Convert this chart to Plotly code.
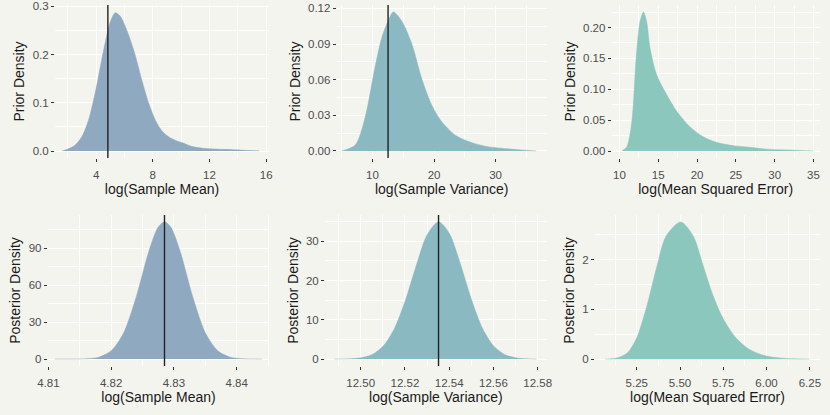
import plotly.graph_objects as go

# --------------------------------------------------------------------------- #
# Density curves (x = statistic, y = density)
# --------------------------------------------------------------------------- #
prior_mean_x = [1.6, 2.0, 2.5, 3.0, 3.5, 4.0, 4.5, 5.0, 5.35, 5.7, 6.2, 6.7, 7.2, 7.7,
                8.2, 8.7, 9.2, 9.7, 10.2, 10.7, 11.5, 12.5, 13.5, 14.5, 15.5]
prior_mean_y = [0.0, 0.004, 0.012, 0.030, 0.068, 0.13, 0.205, 0.268, 0.287, 0.280, 0.248,
                0.205, 0.150, 0.100, 0.063, 0.040, 0.028, 0.021, 0.016, 0.010, 0.006,
                0.004, 0.003, 0.0015, 0.0005]

prior_var_x = [5.0, 7.2, 8.8, 10.4, 11.5, 12.5, 13.4, 14.8, 16.4, 18.0, 19.6, 21.2,
               23.4, 25.6, 28.3, 31.0, 33.7, 36.6]
prior_var_y = [0.0, 0.005, 0.028, 0.070, 0.095, 0.109, 0.117, 0.109, 0.090, 0.061,
               0.039, 0.025, 0.0135, 0.008, 0.004, 0.0023, 0.001, 0.0]

prior_mse_x = [10.3, 10.95, 11.6, 12.15, 12.66, 13.1, 13.5, 13.95, 14.8, 16.1, 17.4,
               19.1, 20.8, 22.5, 24.7, 26.8, 29.0, 32.0, 35.0]
prior_mse_y = [0.0, 0.007, 0.048, 0.150, 0.210, 0.225, 0.210, 0.166, 0.123, 0.091,
               0.064, 0.039, 0.023, 0.014, 0.0086, 0.006, 0.003, 0.0016, 0.0]

post_mean_x = [4.811, 4.814, 4.816, 4.818, 4.820, 4.822, 4.824, 4.826, 4.8275, 4.8285,
               4.8295, 4.831, 4.833, 4.835, 4.837, 4.839, 4.841, 4.843, 4.844]
post_mean_y = [0.0, 0.03, 0.25, 1.5, 6.7, 21.4, 50.6, 87.4, 107.2, 111.5, 107.2, 87.4,
               50.6, 21.4, 6.7, 1.5, 0.25, 0.03, 0.0]

post_var_x = [12.488, 12.495, 12.500, 12.505, 12.510, 12.515, 12.520, 12.525, 12.530,
              12.5352, 12.540, 12.545, 12.550, 12.555, 12.560, 12.565, 12.570, 12.575,
              12.5795]
post_var_y = [0.01, 0.08, 0.33, 1.11, 3.2, 7.5, 14.6, 23.6, 31.6, 35.0, 32.1, 24.4,
              15.3, 7.9, 3.4, 1.2, 0.36, 0.09, 0.01]

post_mse_x = [5.068, 5.14, 5.197, 5.25, 5.31, 5.368, 5.42, 5.504, 5.576, 5.633, 5.69,
              5.747, 5.823, 5.899, 5.994, 6.089, 6.25]
post_mse_y = [0.0, 0.03, 0.13, 0.43, 1.09, 1.89, 2.48, 2.76, 2.48, 1.89, 1.29, 0.83,
              0.43, 0.20, 0.066, 0.02, 0.0]

# observed statistics (vertical lines)
obs_mean = 4.8285
obs_var = 12.5352

# --------------------------------------------------------------------------- #
BG = "#f4f4ef"
BLUE = "#8faac0"
TEAL = "#8ab9c1"
MINT = "#8bc7bc"
FONT = "Liberation Sans, Arial, sans-serif"

panels = [
    # x, y, colour, xtitle, ytitle, xdomain, ydomain, xrange, yrange, xticks, xminor, yticks, yminor, ydigits, vline
    (prior_mean_x, prior_mean_y, BLUE, "log(Sample Mean)", "Prior Density",
     [0.0663, 0.3241], [0.6193, 0.988], [1.1, 16.2], [-0.0144, 0.303],
     [4, 8, 12, 16], (0, 2), [0, 0.1, 0.2, 0.3], (0.05, 0.1), 1, obs_mean),
    (prior_var_x, prior_var_y, TEAL, "log(Sample Variance)", "Prior Density",
     [0.4057, 0.6587], [0.6193, 0.988], [4.2, 38.3], [-0.0059, 0.1229],
     [10, 20, 30], (5, 5), [0, 0.03, 0.06, 0.09, 0.12], (0.015, 0.03), 2, obs_var),
    (prior_mse_x, prior_mse_y, MINT, "log(Mean Squared Error)", "Prior Density",
     [0.737, 0.9875], [0.6193, 0.988], [9.0, 35.8], [-0.0113, 0.2365],
     [10, 15, 20, 25, 30, 35], (7.5, 2.5), [0, 0.05, 0.1, 0.15, 0.2], (0.025, 0.05), 2, None),
    (post_mean_x, post_mean_y, BLUE, "log(Sample Mean)", "Posterior Density",
     [0.0575, 0.3245], [0.1181, 0.4819], [4.8099, 4.8452], [-5.6, 117.0],
     [4.81, 4.82, 4.83, 4.84], (4.805, 0.005), [0, 30, 60, 90], (15, 15), 0, obs_mean),
    (post_var_x, post_var_y, TEAL, "log(Sample Variance)", "Posterior Density",
     [0.3916, 0.6587], [0.1181, 0.4819], [12.4839, 12.5841], [-1.75, 36.7],
     [12.50, 12.52, 12.54, 12.56, 12.58], (12.49, 0.01), [0, 10, 20, 30], (5, 5), 0, obs_var),
    (post_mse_x, post_mse_y, MINT, "log(Mean Squared Error)", "Posterior Density",
     [0.7169, 0.988], [0.1181, 0.4819], [5.009, 6.309], [-0.138, 2.9],
     [5.25, 5.50, 5.75, 6.00, 6.25], (5.125, 0.125), [0, 1, 2], (0.5, 0.5), 0, None),
]

fig = go.Figure()
layout = {}

for i, (xs, ys, col, xt, yt, xd, yd, xr, yr, xtk, xmin, ytk, ymin, ydig, vline) in enumerate(panels, start=1):
    sfx = "" if i == 1 else str(i)
    fig.add_trace(go.Scatter(
        x=xs, y=ys, mode="lines", fill="tozeroy", fillcolor=col,
        line=dict(color=col, width=0.5, shape="spline", smoothing=0.8),
        xaxis="x" + sfx, yaxis="y" + sfx, showlegend=False, hoverinfo="skip",
    ))
    axis_common = dict(
        showgrid=True, gridcolor="white", gridwidth=1.2, zeroline=False,
        ticks="outside", ticklen=3, tickwidth=1, tickcolor="#333333",
        tickfont=dict(family=FONT, size=11.5, color="#4d4d4d"),
        showline=False, automargin=False,
    )
    xlabels = [f"{v:.2f}" if i >= 4 else f"{v:g}" for v in xtk]
    ylabels = [f"{v:.{ydig}f}" for v in ytk]
    layout["xaxis" + sfx] = dict(
        axis_common, domain=xd, range=xr, anchor="y" + sfx,
        tickmode="array", tickvals=xtk, ticktext=xlabels, ticklabelstandoff=3,
        minor=dict(showgrid=True, gridcolor="white", gridwidth=0.6, tick0=xmin[0], dtick=xmin[1]),
        title=dict(text=xt, font=dict(family=FONT, size=14, color="#1a1a1a"), standoff=4),
    )
    layout["yaxis" + sfx] = dict(
        axis_common, domain=yd, range=yr, anchor="x" + sfx,
        tickmode="array", tickvals=ytk, ticktext=ylabels,
        minor=dict(showgrid=True, gridcolor="white", gridwidth=0.6, tick0=ymin[0], dtick=ymin[1]),
        title=dict(text=yt, font=dict(family=FONT, size=14, color="#1a1a1a"), standoff=4),
    )
    if vline is not None:
        fig.add_shape(type="line", x0=vline, x1=vline, y0=0, y1=1,
                      xref="x" + sfx, yref="y" + sfx + " domain",
                      line=dict(color="#222222", width=1.4), layer="above")

fig.update_layout(
    width=830, height=415,
    margin=dict(l=0, r=0, t=0, b=0),
    paper_bgcolor=BG, plot_bgcolor=BG,
    font=dict(family=FONT),
    **layout,
)

# the page wrapper has an 8px body margin; drop it so the figure fills the window
fig.write_html("out.html", config={"displayModeBar": False},
               post_script="document.body.style.margin='0';")
